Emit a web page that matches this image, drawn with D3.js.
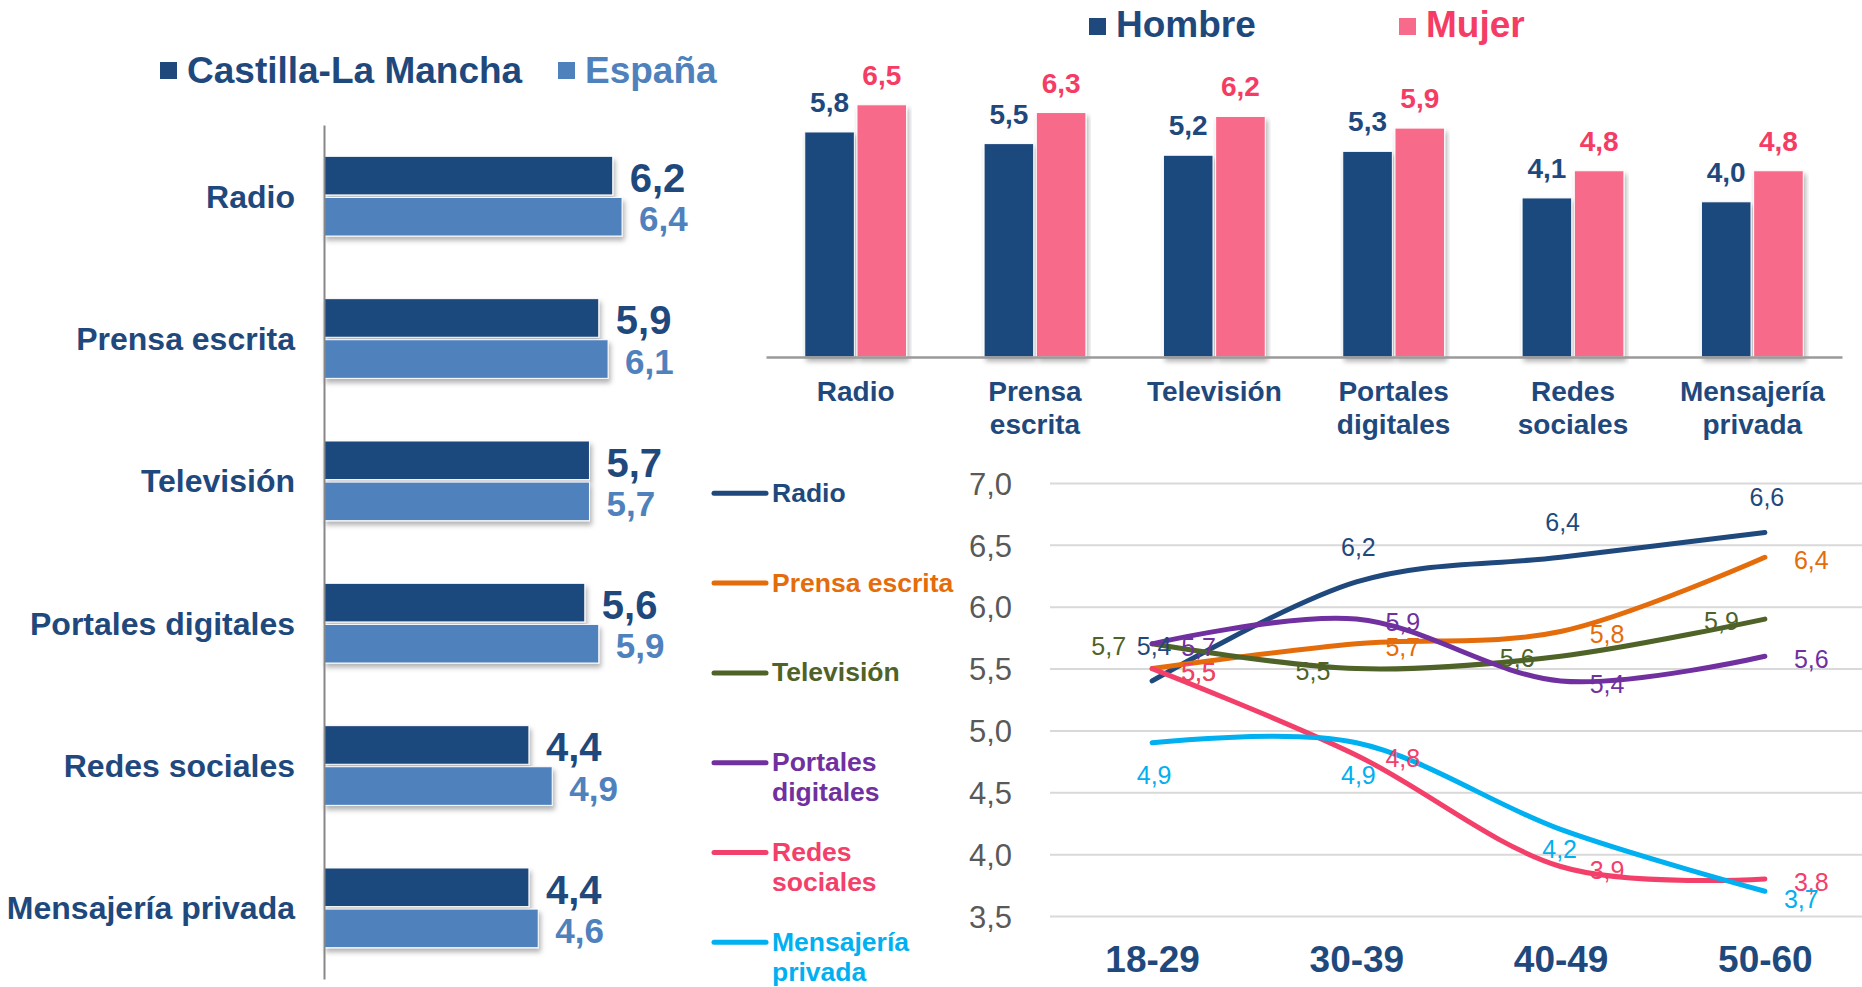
<!DOCTYPE html>
<html>
<head>
<meta charset="utf-8">
<script src="https://cdn.jsdelivr.net/npm/d3@7"></script>
<style>
body { margin: 0; background: #fff; }
svg { display: block; font-family: "Liberation Sans", Arial, sans-serif; }
</style>
</head>
<body>
<svg id="chart" width="1862" height="987"></svg>
<script>
// data
const media = ["Radio", "Prensa escrita", "Televisión", "Portales digitales", "Redes sociales", "Mensajería privada"];
const regionSeries = ["Castilla-La Mancha", "España"];
const clmValues = [6.2, 5.9, 5.7, 5.6, 4.4, 4.4];
const spainValues = [6.4, 6.1, 5.7, 5.9, 4.9, 4.6];

const sexSeries = ["Hombre", "Mujer"];
const hombreValues = [5.8, 5.5, 5.2, 5.3, 4.1, 4.0];
const mujerValues = [6.5, 6.3, 6.2, 5.9, 4.8, 4.8];
const mediaLines = [["Radio"], ["Prensa", "escrita"], ["Televisión"], ["Portales", "digitales"], ["Redes", "sociales"], ["Mensajería", "privada"]];

const ageGroups = ["18-29", "30-39", "40-49", "50-60"];
const radioByAge = [5.4, 6.2, 6.4, 6.6];
const prensaByAge = [5.5, 5.7, 5.8, 6.4];
const tvByAge = [5.7, 5.5, 5.6, 5.9];
const portalesByAge = [5.7, 5.9, 5.4, 5.6];
const redesByAge = [5.5, 4.8, 3.9, 3.8];
const mensajeriaByAge = [4.9, 4.9, 4.2, 3.7];
const ageTicks = [3.5, 4.0, 4.5, 5.0, 5.5, 6.0, 6.5, 7.0];
const legendLines = [["Radio"], ["Prensa escrita"], ["Televisión"], ["Portales", "digitales"], ["Redes", "sociales"], ["Mensajería", "privada"]];

// colours
const navy = "#1F497D";
const spainBlue = "#4F81BD";
const pinkBar = "#F76A89";
const pinkText = "#F43C64";
const lineColors = [navy, "#E46C0A", "#4F6228", "#7030A0", "#F2406A", "#00B0F0"];

const es = d3.formatLocale({ decimal: ",", thousands: ".", grouping: [3], currency: ["", "€"] });
const fmt = es.format(".1f");

const svg = d3.select("#chart");
const defs = svg.append("defs");
defs.append("filter")
    .attr("id", "shadow")
    .attr("x", "-5%").attr("y", "-10%")
    .attr("width", "115%").attr("height", "150%")
    .append("feDropShadow")
    .attr("dx", 2).attr("dy", 4)
    .attr("stdDeviation", 2.5)
    .attr("flood-color", "#000")
    .attr("flood-opacity", 0.3);

/* left: horizontal bars by region */
const regionData = media.map((m, i) => ({ media: m, values: [clmValues[i], spainValues[i]] }));
const hx = d3.scaleLinear().domain([0, 7]).range([324, 650]);
const hy = d3.scaleBand().domain(media).range([125, 979]).paddingInner(0.44).paddingOuter(0.22);
const hSub = d3.scaleBand().domain(regionSeries).range([0, hy.bandwidth()]).paddingInner(0.06);
const regionColors = [navy, spainBlue];
const regionFont = [40, 35];

let hGroups = svg.append("g")
    .selectAll("g")
    .data(regionData)
    .join("g")
    .attr("transform", (d) => `translate(0,${hy(d.media)})`);
hGroups.selectAll("rect")
    .data((d) => d.values)
    .join("rect")
    .attr("x", hx(0))
    .attr("y", (v, i) => hSub(regionSeries[i]))
    .attr("width", (v) => hx(v) - hx(0))
    .attr("height", hSub.bandwidth())
    .attr("fill", (v, i) => regionColors[i])
    .attr("stroke", "#fff")
    .attr("stroke-width", 1)
    .attr("filter", "url(#shadow)");
hGroups.selectAll("text")
    .data((d) => d.values)
    .join("text")
    .text((v) => fmt(v))
    .attr("x", (v) => hx(v) + 17)
    .attr("y", (v, i) => hSub(regionSeries[i]) + hSub.bandwidth() / 2 + 2)
    .attr("dy", "0.36em")
    .attr("fill", (v, i) => regionColors[i])
    .style("font-weight", "bold")
    .style("font-size", (v, i) => regionFont[i] + "px");

let leftAxis = svg.append("g")
    .attr("transform", `translate(${hx(0)},0)`)
    .call(d3.axisLeft(hy).tickSize(0).tickSizeOuter(0).tickPadding(29));
leftAxis.select(".domain").attr("stroke", "#888").attr("stroke-width", 2);
leftAxis.selectAll("text")
    .attr("fill", navy)
    .attr("dy", "0.36em")
    .style("font-size", "32px")
    .style("font-weight", "bold")
    .style("font-family", "'Liberation Sans', Arial, sans-serif");

// region legend
const regionLegendX = [160, 558];
regionSeries.forEach((s, i) => {
    svg.append("rect")
        .attr("x", regionLegendX[i]).attr("y", 62)
        .attr("width", 17).attr("height", 17)
        .attr("fill", regionColors[i]);
    svg.append("text")
        .text(s)
        .attr("x", regionLegendX[i] + 27).attr("y", 83)
        .attr("fill", regionColors[i])
        .style("font-size", "37px")
        .style("font-weight", "bold");
});

/* top right: columns by sex */
const sexData = media.map((m, i) => ({ media: m, values: [hombreValues[i], mujerValues[i]] }));
const cx = d3.scaleBand().domain(media).range([766, 1842]).paddingInner(0.432).paddingOuter(0.216);
const cSub = d3.scaleBand().domain(sexSeries).range([0, cx.bandwidth()]).paddingInner(0.05);
const cy = d3.scaleLinear().domain([0, 7]).range([357, 357 - 7 * 38.8]);
const sexBarColors = [navy, pinkBar];
const sexTextColors = [navy, pinkText];

let cGroups = svg.append("g")
    .selectAll("g")
    .data(sexData)
    .join("g")
    .attr("transform", (d) => `translate(${cx(d.media)},0)`);
cGroups.selectAll("rect")
    .data((d) => d.values)
    .join("rect")
    .attr("x", (v, i) => cSub(sexSeries[i]))
    .attr("y", (v) => cy(v))
    .attr("width", cSub.bandwidth())
    .attr("height", (v) => cy(0) - cy(v))
    .attr("fill", (v, i) => sexBarColors[i])
    .attr("stroke", "#fff")
    .attr("stroke-width", 1)
    .attr("filter", "url(#shadow)");
cGroups.selectAll("text")
    .data((d) => d.values)
    .join("text")
    .text((v) => fmt(v))
    .attr("x", (v, i) => cSub(sexSeries[i]) + cSub.bandwidth() / 2)
    .attr("y", (v) => cy(v) - 20)
    .attr("text-anchor", "middle")
    .attr("fill", (v, i) => sexTextColors[i])
    .style("font-size", "28px")
    .style("font-weight", "bold");

let colAxis = svg.append("g")
    .attr("transform", `translate(0,${cy(0)})`)
    .call(d3.axisBottom(cx).tickSize(0).tickSizeOuter(0).tickFormat(""));
colAxis.select(".domain").attr("stroke", "#9A9A9A").attr("stroke-width", 2.5);

media.forEach((m, i) => {
    let t = svg.append("text")
        .attr("text-anchor", "middle")
        .attr("fill", navy)
        .style("font-size", "28px")
        .style("font-weight", "bold");
    mediaLines[i].forEach((line, j) => {
        t.append("tspan")
            .text(line)
            .attr("x", cx(m) + cx.bandwidth() / 2)
            .attr("y", 401 + j * 33);
    });
});

// sex legend
const sexLegendX = [1089, 1399];
sexSeries.forEach((s, i) => {
    svg.append("rect")
        .attr("x", sexLegendX[i]).attr("y", 18)
        .attr("width", 17).attr("height", 17)
        .attr("fill", sexBarColors[i]);
    svg.append("text")
        .text(s)
        .attr("x", sexLegendX[i] + 27).attr("y", 37)
        .attr("fill", sexTextColors[i])
        .style("font-size", "37px")
        .style("font-weight", "bold");
});

/* bottom right: lines by age */
const ageSeries = [radioByAge, prensaByAge, tvByAge, portalesByAge, redesByAge, mensajeriaByAge];
const lx = d3.scalePoint().domain(ageGroups).range([1050, 1867]).padding(0.5);
const ly = d3.scaleLinear().domain([3.5, 7]).range([916, 483]);

let grid = svg.append("g")
    .attr("transform", "translate(1050,0)")
    .call(d3.axisLeft(ly).tickValues(ageTicks).tickSize(-(1862 - 1050)).tickPadding(38).tickFormat(fmt));
grid.select(".domain").remove();
grid.selectAll("line").attr("stroke", "#D9D9D9").attr("stroke-width", 2);
grid.selectAll("text")
    .attr("fill", "#595959")
    .attr("dy", "0.36em")
    .style("font-size", "31px")
    .style("font-family", "'Liberation Sans', Arial, sans-serif");

let ageAxis = svg.append("g")
    .attr("transform", "translate(0,972)")
    .call(d3.axisBottom(lx).tickSize(0).tickPadding(0));
ageAxis.select(".domain").remove();
ageAxis.selectAll("text")
    .attr("y", 0).attr("dy", 0)
    .attr("fill", navy)
    .style("font-size", "37px")
    .style("font-weight", "bold")
    .style("font-family", "'Liberation Sans', Arial, sans-serif");

const line = d3.line()
    .x((d, i) => lx(ageGroups[i]))
    .y((d) => ly(d))
    .curve(d3.curveCardinal.tension(0));

svg.append("g")
    .selectAll("path")
    .data(ageSeries)
    .join("path")
    .attr("d", line)
    .attr("fill", "none")
    .attr("stroke", (d, i) => lineColors[i])
    .attr("stroke-width", 5)
    .attr("stroke-linecap", "round");

// data label placement per series and point
const labelPlacement = [
    ["above", "above", "above", "above"],
    ["right", "right", "right", "right"],
    ["left", "left", "left", "left"],
    ["right", "right", "right", "right"],
    ["right", "right", "right", "right"],
    ["below", "below", "belowNear", "lowerRight"]
];
const labelOffset = {
    above: { dx: 2, dy: -35, anchor: "middle" },
    below: { dx: 2, dy: 32, anchor: "middle" },
    belowNear: { dx: -1, dy: 20, anchor: "middle" },
    right: { dx: 29, dy: 3, anchor: "start" },
    lowerRight: { dx: 19, dy: 8, anchor: "start" },
    left: { dx: -26, dy: 2, anchor: "end" }
};
let labelArea = svg.append("g");
ageSeries.forEach((values, s) => {
    values.forEach((v, i) => {
        let p = labelOffset[labelPlacement[s][i]];
        labelArea.append("text")
            .text(fmt(v))
            .attr("x", lx(ageGroups[i]) + p.dx)
            .attr("y", ly(v) + p.dy)
            .attr("dy", "0.36em")
            .attr("text-anchor", p.anchor)
            .attr("fill", lineColors[s])
            .style("font-size", "25px");
    });
});

// line legend
legendLines.forEach((lines, i) => {
    let y = 493.3 + i * 89.8;
    svg.append("line")
        .attr("x1", 714).attr("x2", 766)
        .attr("y1", y).attr("y2", y)
        .attr("stroke", lineColors[i])
        .attr("stroke-width", 5)
        .attr("stroke-linecap", "round");
    let t = svg.append("text")
        .attr("fill", lineColors[i])
        .style("font-size", "26.5px")
        .style("font-weight", "bold");
    lines.forEach((l, j) => {
        t.append("tspan").text(l).attr("x", 772).attr("y", y + 8.4 + j * 30);
    });
});
</script>
</body>
</html>
